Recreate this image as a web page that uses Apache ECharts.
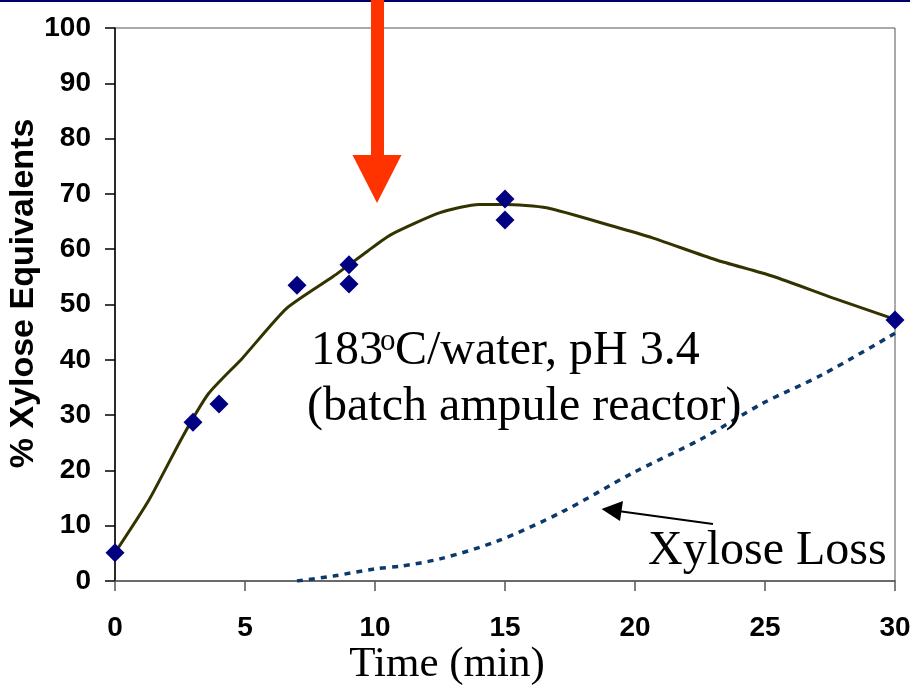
<!DOCTYPE html>
<html>
<head>
<meta charset="utf-8">
<script src="https://cdn.jsdelivr.net/npm/echarts@6/dist/echarts.min.js"></script>
<style>
html,body{margin:0;padding:0;background:#fff;}
#chart{width:910px;height:688px;}
</style>
</head>
<body>
<div id="chart"></div>
<script>
// Measured data (time in min, % xylose equivalents)
var pointTimes = [0, 3, 4, 7, 9, 9, 15, 15, 30];
var pointValues = [5.1, 28.7, 32, 53.5, 57.2, 53.7, 69.1, 65.3, 47.2];

// Fitted curve
var fitTimes = [0, 1.3, 2.6, 3.6, 4.9, 6.6, 8.4, 9.7, 10.6, 12.5, 14, 15, 16.6, 19.2, 20.7, 23.1, 25.3, 27.6, 30];
var fitValues = [5.1, 14.6, 26.1, 33.9, 40.3, 49.3, 55.1, 59.6, 62.6, 66.6, 68.1, 68.1, 67.5, 64.1, 62.0, 58.1, 55.1, 51.2, 47.3];

// Xylose loss curve
var lossTimes = [7, 8.4, 10, 11, 12.5, 14.7, 17.2, 19.9, 22.6, 24.9, 27.2, 30];
var lossValues = [0, 0.9, 2.2, 2.7, 4.0, 7.2, 12.5, 19.5, 25.8, 32.1, 37.3, 44.8];

// Axis ticks
var xTicks = [0, 5, 10, 15, 20, 25, 30];
var yTicks = [0, 10, 20, 30, 40, 50, 60, 70, 80, 90, 100];

function pairs(xs, ys) { return xs.map(function (x, i) { return [x, ys[i]]; }); }

var chart = echarts.init(document.getElementById('chart'), null, {renderer: 'canvas'});
var sans = 'Arial';
var serif = 'Times New Roman';
var tickFont = {fontFamily: sans, fontWeight: 'bold', fontSize: 28, color: '#000'};

chart.setOption({
  animation: false,
  backgroundColor: '#fff',
  grid: {left: 115, right: 15, top: 28, bottom: 107, show: true, borderColor: '#555', borderWidth: 1,
         backgroundColor: 'transparent', containLabel: false, outerBoundsMode: 'none'},
  xAxis: {
    type: 'value', min: xTicks[0], max: xTicks[xTicks.length - 1], interval: 5,
    axisLine: {show: true, lineStyle: {color: '#555', width: 1.5}},
    axisTick: {show: true, inside: false, length: 10, lineStyle: {color: '#555', width: 1.5}},
    axisLabel: Object.assign({margin: 33}, tickFont),
    splitLine: {show: false},
    name: 'Time (min)', nameLocation: 'middle', nameGap: 62, nameMoveOverlap: false,
    nameTextStyle: {fontFamily: serif, fontSize: 43, color: '#000', padding: [0, 116, 0, 0]}
  },
  yAxis: {
    type: 'value', min: yTicks[0], max: yTicks[yTicks.length - 1], interval: 10,
    axisLine: {show: true, lineStyle: {color: '#000', width: 1.5}},
    axisTick: {show: true, inside: false, length: 10, lineStyle: {color: '#000', width: 1.5}},
    axisLabel: Object.assign({margin: 24}, tickFont),
    splitLine: {show: false},
    name: '% Xylose Equivalents', nameLocation: 'middle', nameGap: 74, nameRotate: 90, nameMoveOverlap: false,
    nameTextStyle: {fontFamily: sans, fontWeight: 'bold', fontSize: 34, color: '#000', padding: [0, 0, 0, 22]}
  },
  series: [
    {
      type: 'line', data: pairs(lossTimes, lossValues), smooth: 0.3, showSymbol: false,
      lineStyle: {color: '#0b3a6a', width: 3.5, type: [6, 6]}, z: 2
    },
    {
      type: 'line', data: pairs(fitTimes, fitValues), smooth: 0.2, showSymbol: false,
      lineStyle: {color: '#333300', width: 3}, z: 3
    },
    {
      type: 'scatter', data: pairs(pointTimes, pointValues), symbol: 'diamond', symbolSize: [19, 19],
      itemStyle: {color: '#000080', opacity: 1}, z: 5
    }
  ],
  graphic: [
    {type: 'rect', shape: {x: 0, y: 0, width: 910, height: 2}, style: {fill: '#000066'}, z: 100},
    {type: 'rect', shape: {x: 371, y: 0, width: 13, height: 156}, style: {fill: '#ff3300'}, z: 100},
    {type: 'polygon', shape: {points: [[352.5, 155], [401.5, 155], [377, 203]]}, style: {fill: '#ff3300'}, z: 100},
    {type: 'line', shape: {x1: 713, y1: 524, x2: 618, y2: 511}, style: {stroke: '#000', lineWidth: 2}, z: 100},
    {type: 'polygon', shape: {points: [[601.5, 509], [623, 501], [620, 521]]}, style: {fill: '#000'}, z: 100},
    {type: 'text', x: 311, y: 327, z: 100, style: {text: '183', font: '48px ' + serif, fill: '#000'}},
    {type: 'text', x: 380, y: 326, z: 100, style: {text: 'o', font: '31px ' + serif, fill: '#000'}},
    {type: 'text', x: 395, y: 327, z: 100, style: {text: 'C/water, pH 3.4', font: '48px ' + serif, fill: '#000'}},
    {type: 'text', x: 307, y: 383, z: 100, style: {text: '(batch ampule reactor)', font: '48px ' + serif, fill: '#000'}},
    {type: 'text', x: 648, y: 527, z: 100, style: {text: 'Xylose Loss', font: '48px ' + serif, fill: '#000'}}
  ]
});
</script>
</body>
</html>
